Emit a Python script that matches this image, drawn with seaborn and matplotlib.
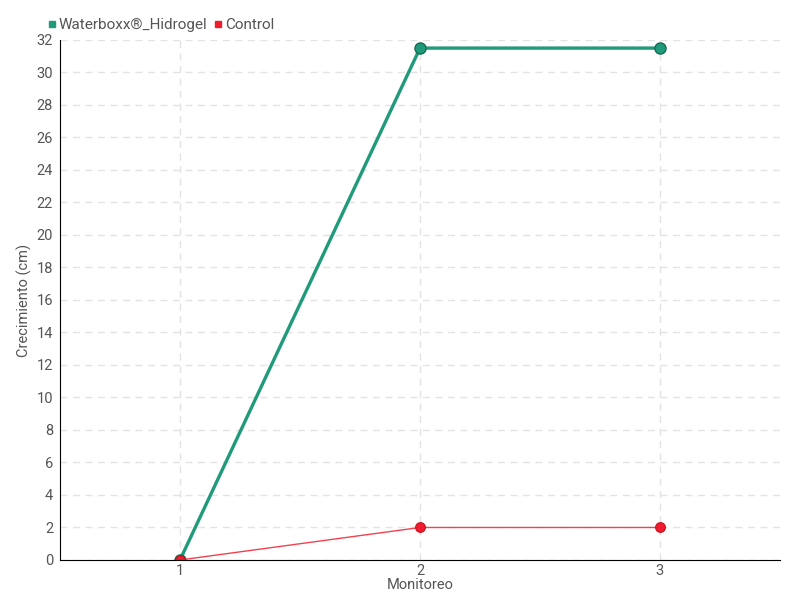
import pandas as pd
import seaborn as sns
import matplotlib.pyplot as plt

# datos
monitoreo = [1, 2, 3]
waterboxx = [0, 31.5, 31.5]
control = [0, 2, 2]
series = ['Waterboxx®_Hidrogel', 'Control']
colores = ['#1f9a7a', '#ee1c2e']

df = pd.DataFrame({
    'Monitoreo': monitoreo * 2,
    'Crecimiento': waterboxx + control,
    'serie': [series[0]] * 3 + [series[1]] * 3,
})

sns.set_style('white')
plt.rcParams['font.family'] = ['Roboto', 'DejaVu Sans']
gris = '#555555'

fig = plt.figure(figsize=(8, 6), dpi=100)
ax = fig.add_axes([0.075, 0.0667, 0.9, 0.8667])

sns.lineplot(data=df[df.serie == series[0]], x='Monitoreo', y='Crecimiento', ax=ax,
             color=colores[0], linewidth=2.4, marker='o', markersize=8,
             markeredgecolor='#1a6b50', markeredgewidth=1, legend=False)
sns.lineplot(data=df[df.serie == series[1]], x='Monitoreo', y='Crecimiento', ax=ax,
             color='#f2414f', linewidth=1, marker='o', markersize=7,
             markerfacecolor=colores[1], markeredgecolor='#c8101e', markeredgewidth=0.8,
             legend=False)

ax.set_xlim(0.5, 3.5)
ax.set_ylim(0, 32)
ax.set_xticks(monitoreo)
ax.set_yticks(range(0, 33, 2))
ax.grid(True, linestyle=(0, (5, 4)), color='#e3e3e3', linewidth=1)
for s in ['top', 'right']:
    ax.spines[s].set_visible(False)
ax.spines['left'].set_color('black')
ax.spines['bottom'].set_color('black')
ax.tick_params(axis='y', length=4, direction='inout', colors='black', labelcolor=gris, labelsize=10.5, pad=3)
ax.tick_params(axis='x', length=6, direction='inout', colors=gris, labelcolor=gris, labelsize=10.5, pad=0)
ax.set_xlabel('Monitoreo', color=gris, fontsize=10.5, labelpad=0)
ax.set_ylabel('Crecimiento (cm)', color=gris, fontsize=10.5, labelpad=3)

handles = [plt.Line2D([], [], marker='s', linestyle='', color=c, markersize=4.5) for c in colores]
ax.legend(handles, series, loc='lower left', bbox_to_anchor=(-0.03, 1.0), ncol=2, frameon=False,
          handletextpad=0.05, columnspacing=0.3, handlelength=0.8, fontsize=11, labelcolor=gris,
          borderaxespad=0.1)

fig.savefig('out.png', dpi=100)
